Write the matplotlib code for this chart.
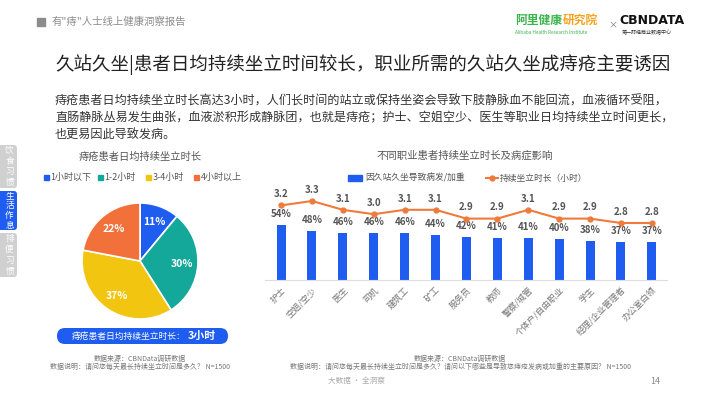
import matplotlib
matplotlib.use("Agg")
import matplotlib.pyplot as plt
from matplotlib.patches import FancyBboxPatch, Rectangle
from matplotlib.lines import Line2D

plt.rcParams['font.family'] = ['Noto Sans CJK SC', 'DejaVu Sans']

# ---------------- data ----------------
pie_labels = ['1小时以下', '1-2小时', '3-4小时', '4小时以上']
pie_values = [11, 30, 37, 22]
pie_colors = ['#1f5cf0', '#14a89a', '#f2c511', '#f2703a']

occupations = ['护士', '空姐/空少', '医生', '司机', '建筑工', '矿工', '服务员', '教师',
               '警察/城管', '个体户/自由职业', '学生', '经理/企业管理者', '办公室白领']
bar_values = [54, 48, 46, 46, 46, 44, 42, 41, 41, 40, 38, 37, 37]
line_values = [3.2, 3.3, 3.1, 3.0, 3.1, 3.1, 2.9, 2.9, 3.1, 2.9, 2.9, 2.8, 2.8]

bar_name = '因久站久坐导致病发/加重'
line_name = '持续坐立时长（小时）'

W, H = 710, 399
fig = plt.figure(figsize=(W / 100, H / 100), dpi=100)
fig.patch.set_facecolor('white')


def fax(x0, y0, x1, y1):
    """axes from pixel box (top-left origin)"""
    return fig.add_axes([x0 / W, 1 - y1 / H, (x1 - x0) / W, (y1 - y0) / H])


BLUE = '#1f5cf0'
ORANGE = '#f07a3c'
GREY = '#555555'

# ---------------- pie ----------------
axp = fax(82, 203, 198, 319)
wedges, _, autotexts = axp.pie(
    pie_values, colors=pie_colors, startangle=90, counterclock=False,
    autopct=lambda p: f'{p:.0f}%', pctdistance=0.72,
    wedgeprops=dict(edgecolor='white', linewidth=1.2),
    textprops=dict(color='white', fontsize=7.5, fontweight='bold'))
axp.set_xlim(-1, 1)
axp.set_ylim(-1, 1)
axp.set_aspect('equal')
axp.axis('off')

# ---------------- bar + line ----------------
axb = fax(265, 190, 667, 280)
x = list(range(len(occupations)))
axb.bar(x, bar_values, width=0.29, color=BLUE, zorder=2)
axb.set_xlim(-0.52, 12.49)
axb.set_ylim(0, 88.2)
for s in ['top', 'right', 'left']:
    axb.spines[s].set_visible(False)
axb.spines['bottom'].set_color('#dddddd')
axb.spines['bottom'].set_linewidth(0.8)
axb.set_yticks([])
axb.set_xticks(x)
axb.set_xticklabels(occupations, rotation=45, ha='right', rotation_mode='anchor',
                    fontsize=6.3, color='#777777')
axb.tick_params(axis='x', length=0, pad=4)
for xi, v in zip(x, bar_values):
    axb.annotate(f'{v}%', (xi, v), xytext=(0, 8), textcoords='offset points',
                 ha='center', va='center', fontsize=7, fontweight='bold', color=GREY)
axb.patch.set_alpha(0)

axl = axb.twinx()
axl.plot(x, line_values, color=ORANGE, lw=1.5, marker='o', markersize=3.5, zorder=3)
axl.set_ylim(1.505, 3.55)
axl.axis('off')
for xi, v in zip(x, line_values):
    axl.annotate(f'{v:.1f}', (xi, v), xytext=(0, 8), textcoords='offset points',
                 ha='center', va='center', fontsize=7, fontweight='bold', color=GREY)

# ---------------- overlay (pixel coords) ----------------
ov = fig.add_axes([0, 0, 1, 1])
ov.set_xlim(0, W)
ov.set_ylim(H, 0)
ov.axis('off')
ov.patch.set_alpha(0)

# header
ov.add_patch(Rectangle((37, 18), 8, 8, color='#8c8c8c'))
ov.text(52, 22, '有"痔"人士线上健康洞察报告', fontsize=7.5, color='#8c8c8c', va='center')

# logos
ov.text(515, 20, '阿里健康', fontsize=8.5, color='#39b54a', fontweight='bold', va='center')
ov.text(563, 20, '研究院', fontsize=8.5, color='#f7a21b', fontweight='bold', va='center')
ov.text(515, 32, 'Alibaba Health Research Institute', fontsize=3.4, color='#39b54a', va='center')
ov.text(608, 25, '×', fontsize=6.5, color='#777777', va='center')
ov.text(619, 21, 'CBNDATA', fontsize=9, color='#111111', fontweight='bold', va='center',
        family=['DejaVu Sans'])
ov.text(622, 33, '第一财经商业数据中心', fontsize=3.6, color='#333333', va='center')

# title
ov.text(55, 65, '久站久坐|患者日均持续坐立时间较长，职业所需的久站久坐成痔疮主要诱因',
        fontsize=13.3, color='#222222', va='center')

# paragraph
para = ['痔疮患者日均持续坐立时长高达3小时，人们长时间的站立或保持坐姿会导致下肢静脉血不能回流，血液循环受阻，',
        '直肠静脉丛易发生曲张，血液淤积形成静脉团，也就是痔疮；护士、空姐空少、医生等职业日均持续坐立时间更长，',
        '也更易因此导致发病。']
for i, line in enumerate(para):
    ov.text(55, 101 + i * 17, line, fontsize=8.7, color='#333333', va='center')

# side tabs
tabs = [('饮食习惯', 145, 188, '#d0d0d0'), ('生活作息', 191, 230, BLUE), ('排便习惯', 233, 277, '#d0d0d0')]
for label, y0, y1, c in tabs:
    ov.add_patch(FancyBboxPatch((-6, y0), 23, y1 - y0, boxstyle='round,pad=0,rounding_size=3',
                                facecolor=c, edgecolor='none'))
    n = len(label)
    step = (y1 - y0) / n
    for k, ch in enumerate(label):
        ov.text(9.5, y0 + step * (k + 0.5), ch, fontsize=6.2, color='white', ha='center', va='center')

# pie titles & legend
ov.text(140, 157, '痔疮患者日均持续坐立时长', fontsize=7.4, color=GREY, ha='center', va='center')
leg_x = [46, 100, 148, 196]
for lx, lab, c in zip(leg_x, pie_labels, pie_colors):
    ov.add_patch(Rectangle((lx - 2.5, 175), 5, 5, color=c))
    ov.text(lx + 4.5, 177.5, lab, fontsize=6.5, color=GREY, va='center')

# pill
ov.add_patch(FancyBboxPatch((57, 328), 171, 16, boxstyle='round,pad=0,rounding_size=8',
                            facecolor=BLUE, edgecolor='none'))
ov.text(72, 336, '痔疮患者日均持续坐立时长：', fontsize=6.3, color='white', va='center')
ov.text(188, 336, '3小时', fontsize=7.8, color='white', va='center', fontweight='bold',
        style='italic')

# left sources
ov.text(140, 359, '数据来源：CBNData调研数据', fontsize=5, color='#777777', ha='center', va='center')
ov.text(140, 367, '数据说明：请问您每天最长持续坐立时间是多久？ N=1500', fontsize=5, color='#777777',
        ha='center', va='center')

# right title & legend
ov.text(465, 156, '不同职业患者持续坐立时长及病症影响', fontsize=7.5, color=GREY, ha='center', va='center')
ov.add_patch(Rectangle((348, 175), 14, 6, color=BLUE))
ov.text(365, 178, bar_name, fontsize=6.3, color=GREY, va='center')
ov.add_line(Line2D([486, 498], [178, 178], color=ORANGE, lw=1.5))
ov.add_line(Line2D([492], [178], color=ORANGE, marker='o', markersize=3.5))
ov.text(500, 178, line_name, fontsize=6.3, color=GREY, va='center')

# right sources
ov.text(460, 359, '数据来源：CBNData调研数据', fontsize=5, color='#777777', ha='center', va='center')
ov.text(460, 367, '数据说明：请问您每天最长持续坐立时间是多久？请问以下哪些是导致您痔疮发病或加重的主要原因？ N=1500',
        fontsize=5, color='#777777', ha='center', va='center')

# footer
ov.text(328, 381, '大数据 · 全洞察', fontsize=5.5, color='#aaaaaa', va='center')
ov.text(650, 381, '14', fontsize=6.5, color='#888888', va='center')

fig.savefig('out.png', dpi=100)
